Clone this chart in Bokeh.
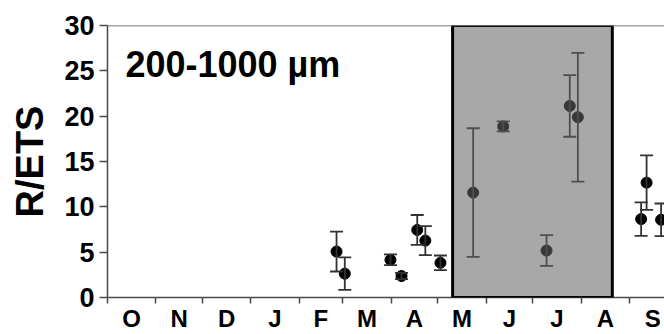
from bokeh.plotting import figure
from bokeh.models import (ColumnDataSource, Whisker, TeeHead, BoxAnnotation, Span,
                          Label, FixedTicker, Range1d)
from bokeh.embed import file_html
from bokeh.resources import INLINE

# Month boundaries (days since 1 October) and labels
month_labels = ["O", "N", "D", "J", "F", "M", "A", "M", "J", "J", "A", "S"]
month_starts = [0, 31, 61, 92, 123, 151, 182, 212, 243, 273, 304, 335, 365]

# Sampling days (days since 1 October), R/ETS means and error (+/-)
days = [147, 152.3, 181.6, 188.7, 198.8, 204, 213.7, 234.7, 254, 281.8, 296.7, 301.9, 342.5, 346, 355.3]
ratio = [5.07, 2.63, 4.16, 2.37, 7.45, 6.28, 3.83, 11.57, 18.87, 5.18, 21.13, 19.89, 8.65, 12.67, 8.57]
err = [2.2, 1.8, 0.6, 0.35, 1.65, 1.6, 0.8, 7.1, 0.55, 1.7, 3.4, 7.1, 1.85, 3.0, 1.8]

# Shaded period (days since 1 October)
shade_start = 221.5
shade_end = 324.0

y_ticks = [0, 5, 10, 15, 20, 25, 30]
panel_title = "200-1000 µm"

FONT = "Liberation Sans"
AX = "#4a4a4a"

src = ColumnDataSource(dict(
    x=days, y=ratio,
    upper=[r + e for r, e in zip(ratio, err)],
    lower=[r - e for r, e in zip(ratio, err)],
))

p = figure(width=664, height=334, output_backend="svg", toolbar_location=None,
           x_range=Range1d(0, 357.5), y_range=Range1d(0, 30),
           min_border_left=107, min_border_right=0, min_border_top=25, min_border_bottom=35)
p.outline_line_color = None
p.xgrid.visible = False
p.ygrid.visible = False
p.background_fill_color = "white"
p.border_fill_color = "white"

# error bars
wh = Whisker(base="x", upper="upper", lower="lower", source=src, dimension="height",
             line_color="#333333", line_width=1.8,
             upper_head=TeeHead(size=13, line_color="#333333", line_width=1.8),
             lower_head=TeeHead(size=13, line_color="#333333", line_width=1.8))
wh.level = "glyph"
p.add_layout(wh)

p.scatter("x", "y", source=src, size=11, color="black", marker="circle")

# shaded period drawn over data
box = BoxAnnotation(left=shade_start, right=shade_end, bottom=0, top=30,
                    fill_color="#636363", fill_alpha=0.56,
                    line_color="black", line_width=3, line_alpha=1.0)
p.add_layout(box)

# top border line
p.add_layout(Span(location=30, dimension="width", line_color=AX, line_width=1.5))

# panel title
p.add_layout(Label(x=11.5, y=25.7, text=panel_title, text_font=FONT, text_font_style="bold",
                   text_font_size="36px", text_color="black", text_baseline="alphabetic"))

# y axis
ya = p.yaxis[0]
ya.ticker = FixedTicker(ticks=y_ticks, minor_ticks=[])
ya.axis_label = "R/ETS"
ya.axis_label_text_font = FONT
ya.axis_label_text_font_style = "bold"
ya.axis_label_text_font_size = "38px"
ya.axis_label_text_color = "black"
ya.axis_label_standoff = 10
ya.major_label_text_font = FONT
ya.major_label_text_font_style = "bold"
ya.major_label_text_font_size = "27px"
ya.major_label_text_color = "black"
ya.major_label_standoff = 5
ya.major_tick_out = 8
ya.major_tick_in = 0
ya.minor_tick_line_color = None
ya.axis_line_color = AX
ya.axis_line_width = 1.5
ya.major_tick_line_color = AX
ya.major_tick_line_width = 1.5

# x axis: labels centred in months, ticks at month boundaries
mids = [(a + b) / 2 for a, b in zip(month_starts[:-1], month_starts[1:])]
xa = p.xaxis[0]
xa.ticker = FixedTicker(ticks=mids, minor_ticks=month_starts)
xa.major_label_overrides = {m: lab for m, lab in zip(mids, month_labels)}
xa.major_label_text_font = FONT
xa.major_label_text_font_style = "bold"
xa.major_label_text_font_size = "24px"
xa.major_label_text_color = "black"
xa.major_label_standoff = 1
xa.major_tick_line_color = None
xa.major_tick_out = 2
xa.major_tick_in = 0
xa.minor_tick_out = 6
xa.minor_tick_in = 0
xa.minor_tick_line_color = AX
xa.minor_tick_line_width = 1.5
xa.axis_line_color = AX
xa.axis_line_width = 1.5

open("out.html", "w").write(file_html(p, INLINE))
